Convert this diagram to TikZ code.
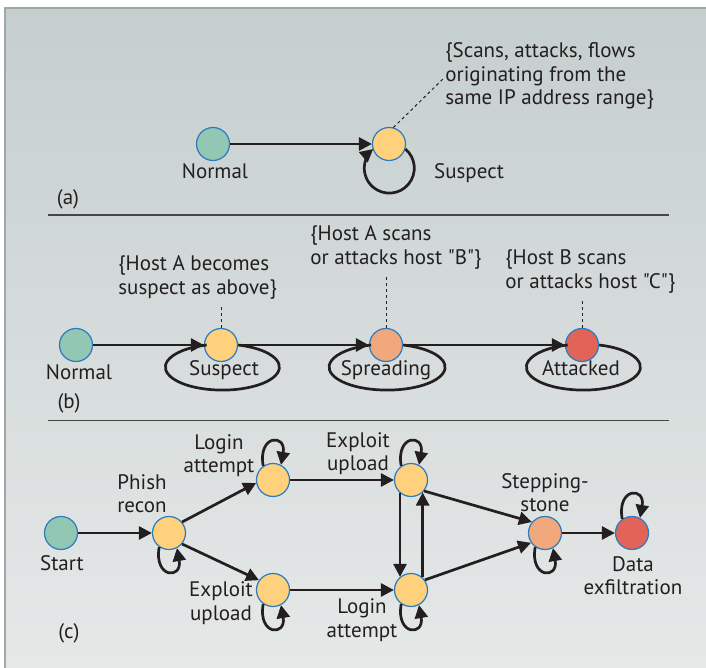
\documentclass[tikz,border=0pt]{standalone}
\usepackage{fontspec}
\setmainfont{PT Sans}[Ligatures=TeXOff]
\usetikzlibrary{arrows.meta}
\definecolor{PanelTop}{RGB}{197,207,206}
\definecolor{PanelBot}{RGB}{230,232,232}
\definecolor{FrameGray}{RGB}{160,167,167}
\definecolor{InkDark}{RGB}{35,31,32}
\definecolor{RuleGray}{RGB}{70,70,70}
\definecolor{RingBlue}{RGB}{43,123,190}
\definecolor{NormalGreen}{RGB}{146,199,180}
\definecolor{SuspectYellow}{RGB}{255,209,124}
\definecolor{SpreadSalmon}{RGB}{240,168,124}
\definecolor{AttackRed}{RGB}{226,99,88}

\tikzset{
	stnode/.style={circle,draw=RingBlue,line width=0.6pt,minimum size=16.5pt,inner sep=0pt},
	flow/.style={InkDark,line width=1.35pt,-{Triangle[length=6.5pt,width=6.5pt]}},
	ring/.style={InkDark,line width=1.35pt},
	note/.style={InkDark,line width=0.5pt,dash pattern=on 1.5pt off 1.5pt},
	lbl/.style={inner sep=0pt,align=center},
	annot/.style={inner sep=0pt,align=left,anchor=west}
}

\begin{document}
\begin{tikzpicture}[x=0.5pt,y=0.5pt,font=\fontsize{10.5}{11.75}\selectfont,text=InkDark]
	\useasboundingbox (0,0) rectangle (706,668);
	\fill[white] (0,0) rectangle (706,668);
	
	% Latar panel
	\shade[top color=PanelTop,bottom color=PanelBot] (5,0) rectangle (706,660);
	\draw[FrameGray,line width=0.8pt] (5,0) -- (5,660) -- (706,660);
	\draw[RuleGray,line width=0.75pt] (48,453) -- (669,453);
	\draw[RuleGray,line width=0.75pt] (48,247.5) -- (669,247.5);
	
	% Panel (a)
	\node[stnode,fill=NormalGreen] (NormA) at (213,524) {};
	\node[stnode,fill=SuspectYellow] (SusA) at (389,524) {};
	\node[lbl,anchor=base] (NormAlbl) at (215,489) {Normal};
	\node[lbl,anchor=base] (SusAlbl) at (469,489) {Suspect};
	\node[annot] (NoteA) at (445,592)
	{\{Scans, attacks, flows\\originating from the\\same IP address range\}};
	\node[lbl,anchor=base] (TagA) at (68,463) {(a)};
	\coordinate (NoteAtip) at (444,590);
	
	\draw[flow] (NormA) -- (SusA);
	\draw[flow] (SusA.-17) arc[start angle=50,end angle=-230,radius=25];
	\draw[note] (SusA.75) -- (NoteAtip);
	
	% Panel (b)
	\node[stnode,fill=NormalGreen] (NormB) at (76,323) {};
	\node[stnode,fill=SuspectYellow] (SusB) at (221,323) {};
	\node[stnode,fill=SpreadSalmon] (SprB) at (386,323) {};
	\node[stnode,fill=AttackRed] (AttB) at (582,323) {};
	\node[lbl,anchor=base] (NormBlbl) at (79,288) {Normal};
	\node[lbl,anchor=base] (SusBlbl) at (224,292) {Suspect};
	\node[lbl,anchor=base] (SprBlbl) at (386,292) {Spreading};
	\node[lbl,anchor=base] (AttBlbl) at (581,292) {Attacked};
	\node[annot] (NoteB1) at (118,390.5) {\{Host A becomes\\suspect as above\}};
	\node[annot] (NoteB2) at (310,420.5) {\{Host A scans\\or attacks host "B"\}};
	\node[annot] (NoteB3) at (505,396.5) {\{Host B scans\\or attacks host "C"\}};
	\node[lbl,anchor=base] (TagB) at (69,259) {(b)};
	
	\draw[ring] (SusB.east) arc[start angle=74,end angle=-254,x radius=57,y radius=23];
	\draw[ring] (SprB.east) arc[start angle=74,end angle=-254,x radius=58,y radius=23];
	\draw[ring] (AttB.east) arc[start angle=74,end angle=-254,x radius=57,y radius=23];
	\draw[flow] (NormB) -- (SusB);
	\draw[flow] (SusB) -- (SprB);
	\draw[flow] (SprB) -- (AttB);
	\draw[note] (SusB.north) -- ([yshift=-2.5pt]SusB.north |- NoteB1.south);
	\draw[note] (SprB.north) -- ([yshift=-2.5pt]SprB.north |- NoteB2.south);
	\draw[note] (AttB.north) -- ([yshift=-2.5pt]AttB.north |- NoteB3.south);
	
	% Panel (c)
	\node[stnode,fill=NormalGreen] (StartC) at (61,135) {};
	\node[stnode,fill=SuspectYellow] (PhishC) at (169,135) {};
	\node[stnode,fill=SuspectYellow] (LogT) at (273,188) {};
	\node[stnode,fill=SuspectYellow] (ExpT) at (411,188) {};
	\node[stnode,fill=SuspectYellow] (ExpB) at (273,78) {};
	\node[stnode,fill=SuspectYellow] (LogB) at (411,78) {};
	\node[stnode,fill=SpreadSalmon] (StoneC) at (545,135) {};
	\node[stnode,fill=AttackRed] (DataC) at (632,135) {};
	
	\node[lbl,anchor=base] (StartClbl) at (62,97) {Start};
	\node[lbl] (PhishClbl) at (142,174.5) {Phish\\recon};
	\node[lbl] (LogTlbl) at (219,212.5) {Login\\attempt};
	\node[lbl] (ExpTlbl) at (358,214.5) {Exploit\\upload};
	\node[lbl] (ExpBlbl) at (221,65) {Exploit\\upload};
	\node[lbl] (LogBlbl) at (362,48) {Login\\attempt};
	\node[lbl] (StoneClbl) at (545,175.5) {Stepping-\\stone};
	\node[lbl] (DataClbl) at (633,92.5) {Data\\exfiltration};
	\node[lbl,anchor=base] (TagC) at (69,29.5) {(c)};
	
	\draw[flow] (StartC) -- (PhishC);
	\draw[flow] (PhishC.40) -- (LogT.190);
	\draw[flow] (PhishC.-40) -- (ExpB.145);
	\draw[flow] (LogT) -- (ExpT);
	\draw[flow] (ExpB) -- (LogB);
	\draw[flow] (ExpT.-130) -- (LogB.130);
	\draw[flow] (LogB.47) -- (ExpT.-47);
	\draw[flow] (ExpT.-40) -- (StoneC.140);
	\draw[flow] (LogB.36) -- (StoneC.215);
	\draw[flow] (StoneC) -- (DataC);
	
	% putaran di atas / di bawah
	\draw[flow] (LogT.125) .. controls +(100:32) and +(80:32) .. (LogT.62);
	\draw[flow] (ExpT.125) .. controls +(100:32) and +(80:32) .. (ExpT.62);
	\draw[flow] (DataC.125) .. controls +(100:32) and +(80:32) .. (DataC.62);
	\draw[flow] (PhishC.-125) .. controls +(-100:32) and +(-80:32) .. (PhishC.-62);
	\draw[flow] (ExpB.-125) .. controls +(-100:32) and +(-80:32) .. (ExpB.-62);
	\draw[flow] (LogB.-125) .. controls +(-100:32) and +(-80:32) .. (LogB.-62);
	\draw[flow] (StoneC.-125) .. controls +(-100:32) and +(-80:32) .. (StoneC.-62);
\end{tikzpicture}
\end{document}
